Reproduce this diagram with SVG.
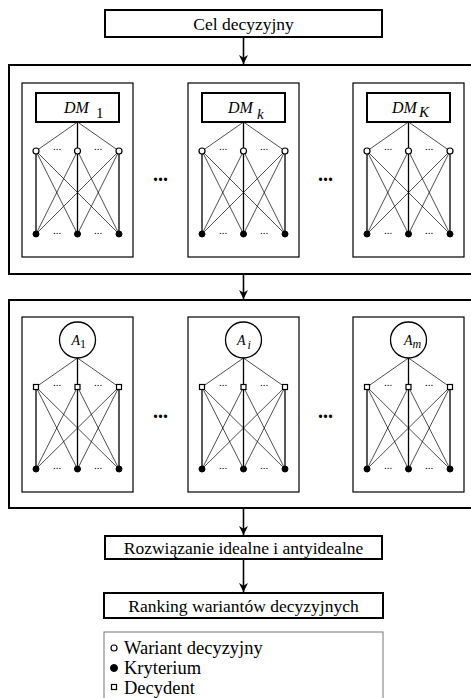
<svg xmlns="http://www.w3.org/2000/svg" width="471" height="698" viewBox="0 0 471 698">
  <defs>
    <marker id="arrow" viewBox="0 0 10 10" refX="10" refY="5" markerWidth="9" markerHeight="9" markerUnits="userSpaceOnUse" orient="auto">
      <path d="M0,0 L10,5 L0,10 L3,5 z" fill="#000"/>
    </marker>
    <style>
      .frame { fill: #fff; stroke: #000; stroke-width: 2; }
      .panel { fill: #fff; stroke: #000; stroke-width: 1.2; }
      .dmbox { fill: #fff; stroke: #000; stroke-width: 2; }
      .alt { fill: #fff; stroke: #000; stroke-width: 1.3; }
      .flow { fill: none; stroke: #000; stroke-width: 1.6; marker-end: url(#arrow); }
      .thin { fill: none; stroke: #000; stroke-width: 0.7; }
      .thick { fill: none; stroke: #000; stroke-width: 1.3; }
      .open { fill: #fff; stroke: #000; stroke-width: 1.2; }
      .full { fill: #000; stroke: #000; stroke-width: 1; }
      .label { font-family: "Liberation Serif", "Times New Roman", serif; font-size: 17.5px; fill: #000; }
      .item { font-family: "Liberation Serif", "Times New Roman", serif; font-size: 18.5px; fill: #000; }
      .math { font-family: "Liberation Serif", "Times New Roman", serif; font-style: italic; fill: #000; }
      .sub { font-family: "Liberation Serif", "Times New Roman", serif; fill: #000; }
      .ell { font-family: "Liberation Serif", "Times New Roman", serif; font-size: 11px; fill: #000; text-anchor: middle; }
      .gap { font-family: "Liberation Serif", "Times New Roman", serif; font-size: 20px; font-weight: bold; fill: #000; text-anchor: middle; }
      .legend { fill: #fff; stroke: #777; stroke-width: 1; }
    </style>
  </defs>
  <rect x="0" y="0" width="471" height="698" fill="#fff"/>

  <!-- goal -->
  <g id="goal">
    <rect class="frame" x="105" y="10" width="277" height="27"/>
    <text class="label" x="243.5" y="29.5" text-anchor="middle">Cel decyzyjny</text>
  </g>

  <!-- decision makers layer -->
  <g id="dm-layer">
    <rect class="frame" x="9" y="65" width="468" height="209"/>
    <text class="gap" x="160.5" y="181">...</text>
    <text class="gap" x="325.5" y="181">...</text>
  </g>
  <g id="dm-1">
    <rect class="panel" x="22" y="83" width="111" height="174"/>
    <rect class="dmbox" x="36" y="93" width="83" height="29"/>
    <text x="64" y="113"><tspan class="math" font-size="16">DM</tspan><tspan class="sub" font-size="15" dx="7" dy="5">1</tspan></text>
  </g>
  <g id="dm-k">
    <rect class="panel" x="188" y="83" width="111" height="174"/>
    <rect class="dmbox" x="202" y="93" width="83" height="29"/>
    <text x="228" y="113"><tspan class="math" font-size="16">DM</tspan><tspan class="math" font-size="15" dx="4" dy="6">k</tspan></text>
  </g>
  <g id="dm-K">
    <rect class="panel" x="353" y="83" width="111" height="174"/>
    <rect class="dmbox" x="367" y="93" width="83" height="29"/>
    <text x="392" y="113"><tspan class="math" font-size="16">DM</tspan><tspan class="math" font-size="15" dx="2" dy="4">K</tspan></text>
  </g>

  <!-- alternatives layer -->
  <g id="alt-layer">
    <rect class="frame" x="9" y="300" width="468" height="208"/>
    <text class="gap" x="160.5" y="418">...</text>
    <text class="gap" x="325.5" y="418">...</text>
  </g>
  <g id="alt-1">
    <rect class="panel" x="22" y="317" width="111" height="175"/>
    <circle class="alt" cx="77.5" cy="340" r="18"/>
    <text x="71.5" y="345"><tspan class="math" font-size="14">A</tspan><tspan class="sub" font-size="12" dy="3">1</tspan></text>
  </g>
  <g id="alt-i">
    <rect class="panel" x="188" y="317" width="111" height="175"/>
    <circle class="alt" cx="243.5" cy="340" r="18"/>
    <text x="237" y="345"><tspan class="math" font-size="14">A</tspan><tspan class="math" font-size="12" dx="2" dy="4">i</tspan></text>
  </g>
  <g id="alt-m">
    <rect class="panel" x="353" y="317" width="111" height="175"/>
    <circle class="alt" cx="408.5" cy="340" r="18"/>
    <text x="404" y="345"><tspan class="math" font-size="14">A</tspan><tspan class="math" font-size="12" dy="3">m</tspan></text>
  </g>

  <!-- result boxes -->
  <g id="ideal">
    <rect class="frame" x="105" y="536" width="277" height="23"/>
    <text class="label" x="243.5" y="553.5" text-anchor="middle">Rozwiązanie idealne i antyidealne</text>
  </g>
  <g id="ranking">
    <rect class="frame" x="104" y="593" width="279" height="25"/>
    <text class="label" x="243.5" y="611.5" text-anchor="middle">Ranking wariantów decyzyjnych</text>
  </g>

  <!-- connectors -->
  <g id="connectors">
    <line class="flow" x1="243.5" y1="37" x2="243.5" y2="64"/>
    <line class="flow" x1="243.5" y1="274" x2="243.5" y2="299"/>
    <line class="flow" x1="243.5" y1="508" x2="243.5" y2="535"/>
    <line class="flow" x1="243.5" y1="559" x2="243.5" y2="592"/>

    <!-- DM panels: decision maker to alternatives, alternatives to criteria -->
    <path class="thin" d="M77.5,122 L36,151 M77.5,122 L119,151 M36,151 L77.5,234 M36,151 L119,234 M77.5,151 L36,234 M77.5,151 L119,234 M119,151 L36,234 M119,151 L77.5,234"/>
    <path class="thick" d="M77.5,122 L77.5,151 M36,151 L36,234 M77.5,151 L77.5,234 M119,151 L119,234"/>
    <path class="thin" d="M243.5,122 L202,151 M243.5,122 L285,151 M202,151 L243.5,234 M202,151 L285,234 M243.5,151 L202,234 M243.5,151 L285,234 M285,151 L202,234 M285,151 L243.5,234"/>
    <path class="thick" d="M243.5,122 L243.5,151 M202,151 L202,234 M243.5,151 L243.5,234 M285,151 L285,234"/>
    <path class="thin" d="M408.5,122 L367,151 M408.5,122 L450,151 M367,151 L408.5,234 M367,151 L450,234 M408.5,151 L367,234 M408.5,151 L450,234 M450,151 L367,234 M450,151 L408.5,234"/>
    <path class="thick" d="M408.5,122 L408.5,151 M367,151 L367,234 M408.5,151 L408.5,234 M450,151 L450,234"/>

    <!-- alternative panels: alternative to decision makers, decision makers to criteria -->
    <path class="thin" d="M77.5,358 L36,387 M77.5,358 L119,387 M36,387 L77.5,469 M36,387 L119,469 M77.5,387 L36,469 M77.5,387 L119,469 M119,387 L36,469 M119,387 L77.5,469"/>
    <path class="thick" d="M77.5,358 L77.5,387 M36,387 L36,469 M77.5,387 L77.5,469 M119,387 L119,469"/>
    <path class="thin" d="M243.5,358 L202,387 M243.5,358 L285,387 M202,387 L243.5,469 M202,387 L285,469 M243.5,387 L202,469 M243.5,387 L285,469 M285,387 L202,469 M285,387 L243.5,469"/>
    <path class="thick" d="M243.5,358 L243.5,387 M202,387 L202,469 M243.5,387 L243.5,469 M285,387 L285,469"/>
    <path class="thin" d="M408.5,358 L367,387 M408.5,358 L450,387 M367,387 L408.5,469 M367,387 L450,469 M408.5,387 L367,469 M408.5,387 L450,469 M450,387 L367,469 M450,387 L408.5,469"/>
    <path class="thick" d="M408.5,358 L408.5,387 M367,387 L367,469 M408.5,387 L408.5,469 M450,387 L450,469"/>
  </g>

  <!-- network vertices -->
  <g id="dm-1-vertices">
    <circle class="open" cx="36" cy="151" r="3"/><circle class="open" cx="77.5" cy="151" r="3"/><circle class="open" cx="119" cy="151" r="3"/>
    <circle class="full" cx="36" cy="234" r="3"/><circle class="full" cx="77.5" cy="234" r="3"/><circle class="full" cx="119" cy="234" r="3"/>
    <text class="ell" x="57" y="150">...</text><text class="ell" x="98" y="150">...</text>
    <text class="ell" x="57" y="234">...</text><text class="ell" x="98" y="234">...</text>
  </g>
  <g id="dm-k-vertices">
    <circle class="open" cx="202" cy="151" r="3"/><circle class="open" cx="243.5" cy="151" r="3"/><circle class="open" cx="285" cy="151" r="3"/>
    <circle class="full" cx="202" cy="234" r="3"/><circle class="full" cx="243.5" cy="234" r="3"/><circle class="full" cx="285" cy="234" r="3"/>
    <text class="ell" x="223" y="150">...</text><text class="ell" x="264" y="150">...</text>
    <text class="ell" x="223" y="234">...</text><text class="ell" x="264" y="234">...</text>
  </g>
  <g id="dm-K-vertices">
    <circle class="open" cx="367" cy="151" r="3"/><circle class="open" cx="408.5" cy="151" r="3"/><circle class="open" cx="450" cy="151" r="3"/>
    <circle class="full" cx="367" cy="234" r="3"/><circle class="full" cx="408.5" cy="234" r="3"/><circle class="full" cx="450" cy="234" r="3"/>
    <text class="ell" x="388" y="150">...</text><text class="ell" x="429" y="150">...</text>
    <text class="ell" x="388" y="234">...</text><text class="ell" x="429" y="234">...</text>
  </g>
  <g id="alt-1-vertices">
    <rect class="open" x="33.5" y="384.5" width="5" height="5"/><rect class="open" x="75" y="384.5" width="5" height="5"/><rect class="open" x="116.5" y="384.5" width="5" height="5"/>
    <circle class="full" cx="36" cy="469" r="3"/><circle class="full" cx="77.5" cy="469" r="3"/><circle class="full" cx="119" cy="469" r="3"/>
    <text class="ell" x="57" y="386">...</text><text class="ell" x="98" y="386">...</text>
    <text class="ell" x="57" y="469">...</text><text class="ell" x="98" y="469">...</text>
  </g>
  <g id="alt-i-vertices">
    <rect class="open" x="199.5" y="384.5" width="5" height="5"/><rect class="open" x="241" y="384.5" width="5" height="5"/><rect class="open" x="282.5" y="384.5" width="5" height="5"/>
    <circle class="full" cx="202" cy="469" r="3"/><circle class="full" cx="243.5" cy="469" r="3"/><circle class="full" cx="285" cy="469" r="3"/>
    <text class="ell" x="223" y="386">...</text><text class="ell" x="264" y="386">...</text>
    <text class="ell" x="223" y="469">...</text><text class="ell" x="264" y="469">...</text>
  </g>
  <g id="alt-m-vertices">
    <rect class="open" x="364.5" y="384.5" width="5" height="5"/><rect class="open" x="406" y="384.5" width="5" height="5"/><rect class="open" x="447.5" y="384.5" width="5" height="5"/>
    <circle class="full" cx="367" cy="469" r="3"/><circle class="full" cx="408.5" cy="469" r="3"/><circle class="full" cx="450" cy="469" r="3"/>
    <text class="ell" x="388" y="386">...</text><text class="ell" x="429" y="386">...</text>
    <text class="ell" x="388" y="469">...</text><text class="ell" x="429" y="469">...</text>
  </g>

  <!-- legend -->
  <g id="legend">
    <rect class="legend" x="104" y="632" width="279" height="80"/>
    <circle class="open" cx="114" cy="648" r="3"/>
    <text class="item" x="124" y="653.5">Wariant decyzyjny</text>
    <circle class="full" cx="114" cy="668" r="3.5"/>
    <text class="item" x="124" y="673.5">Kryterium</text>
    <rect class="open" x="111.5" y="684.5" width="5" height="5"/>
    <text class="item" x="124" y="693.5">Decydent</text>
  </g>
</svg>
